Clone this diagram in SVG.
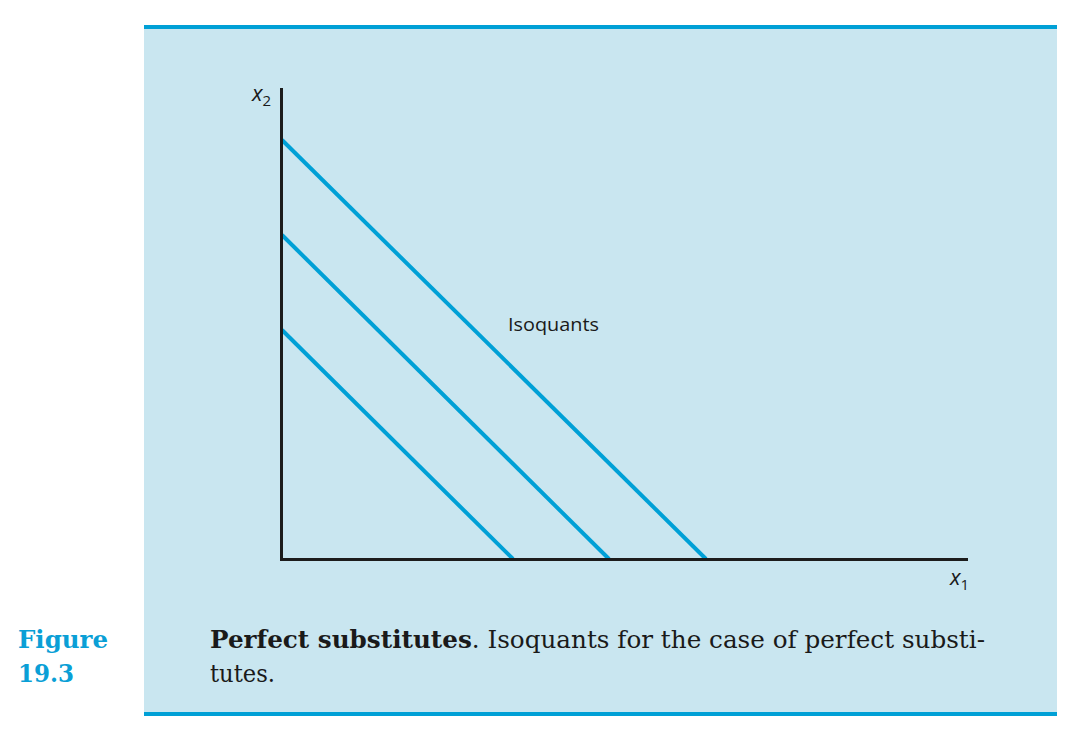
<svg xmlns="http://www.w3.org/2000/svg" width="1082" height="742" viewBox="0 0 1082 742">
<style>
.axis{stroke:#1c1c1c;stroke-width:3;fill:none}
.iso{stroke:#00a0d6;stroke-width:4;fill:none}
.lab{font-family:"Open Sans","Liberation Sans",sans-serif;fill:#1a1a1a}
.cap{font-family:"DejaVu Serif","Liberation Serif",serif;font-size:24px;fill:#1a1a1a}
.fig{font-family:"DejaVu Serif","Liberation Serif",serif;font-size:25px;font-weight:bold;fill:#0a9fd6}
</style>
<rect x="0" y="0" width="1082" height="742" fill="#ffffff"/>
<rect id="panel" x="144" y="27" width="913" height="688" fill="#c9e6f0"/>
<rect x="144" y="25" width="913" height="4" fill="#00a0d6"/>
<rect x="144" y="712" width="913" height="4" fill="#00a0d6"/>
<g id="connectors">
<line class="iso" x1="282" y1="140" x2="706" y2="559"/>
<line class="iso" x1="282" y1="235" x2="609" y2="559"/>
<line class="iso" x1="282" y1="330" x2="513" y2="559"/>
</g>
<g id="axes">
<polyline class="axis" points="281.5,88 281.5,559.5 968,559.5"/>
</g>
<g id="labels">
<text class="lab" x="252" y="101" font-size="22" font-style="italic">x<tspan font-size="15" dy="5" font-style="normal">2</tspan></text>
<text class="lab" x="950" y="585" font-size="22" font-style="italic">x<tspan font-size="15" dy="5" font-style="normal">1</tspan></text>
<text class="lab" x="508" y="331" font-size="19" textLength="91" lengthAdjust="spacingAndGlyphs">Isoquants</text>
</g>
<g id="caption">
<text class="fig" x="18" y="648" textLength="90" lengthAdjust="spacingAndGlyphs">Figure</text>
<text class="fig" x="18" y="682" textLength="56" lengthAdjust="spacingAndGlyphs">19.3</text>
<text class="cap" x="210" y="648" textLength="775" lengthAdjust="spacingAndGlyphs"><tspan font-weight="bold">Perfect substitutes</tspan>.  Isoquants for the case of perfect substi-</text>
<text class="cap" x="210" y="682" textLength="65" lengthAdjust="spacingAndGlyphs">tutes.</text>
</g>
</svg>
